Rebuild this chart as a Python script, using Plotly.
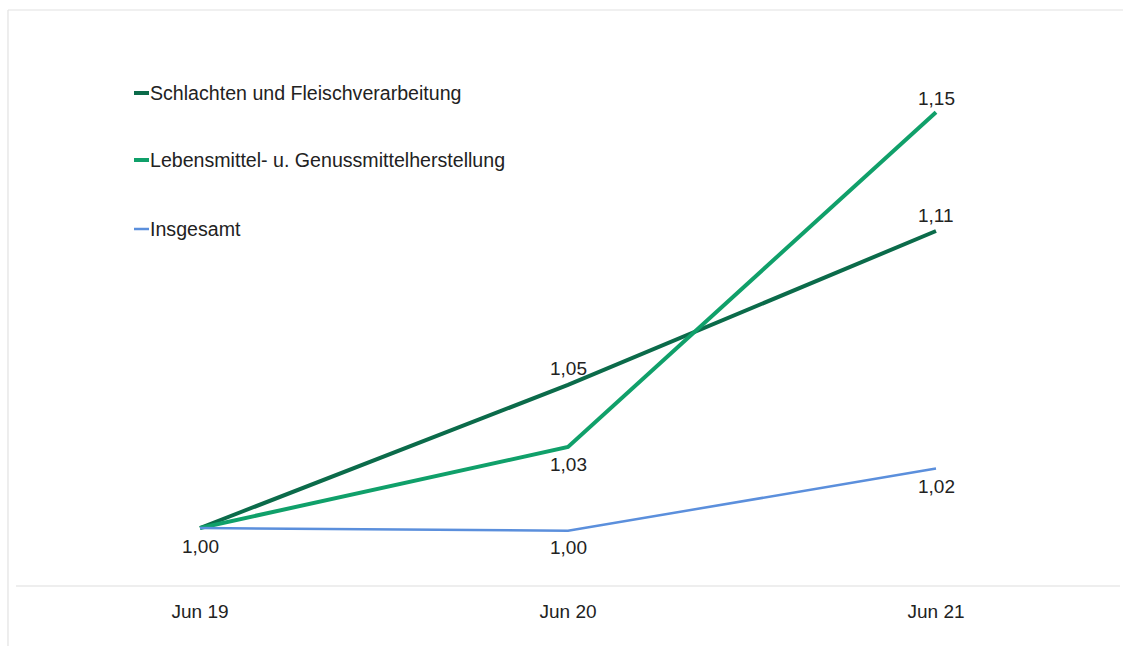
import plotly.graph_objects as go

# Index values (Juni 2019 = 1,00)
periods = ["Jun 19", "Jun 20", "Jun 21"]
series_names = [
    "Schlachten und Fleischverarbeitung",
    "Lebensmittel- u. Genussmittelherstellung",
    "Insgesamt",
]
schlachten = [1.00, 1.053, 1.11]
lebensmittel = [1.00, 1.03, 1.154]
insgesamt = [1.00, 0.999, 1.022]

colors = ["#0b6b4a", "#10a06a", "#5b8fdc"]
widths = [4, 4, 2.5]

# value labels: vertical offset in px (positive = above the point), None = no label
label_shift = [
    [None, 16, 16],
    [None, -17, 14],
    [-18, -17, -18],
]

W, H = 1123, 646
ML, MR, MT, MB = 16, 3, 10, 61
PW, PH = W - ML - MR, H - MT - MB

FONT = "Liberation Sans, Arial, sans-serif"
FS = 19
TXT = "#222222"


def px_x(px):
    return (px - ML) / PW


def px_y(py):
    return (H - MB - py) / PH


def fmt(v):
    return f"{v:.2f}".replace(".", ",")


fig = go.Figure()
annotations = []
for name, vals, col, w, shifts in zip(
    series_names, [schlachten, lebensmittel, insgesamt], colors, widths, label_shift
):
    fig.add_trace(
        go.Scatter(
            x=periods,
            y=vals,
            name=name,
            mode="lines",
            line=dict(color=col, width=w),
            showlegend=False,
            cliponaxis=False,
        )
    )
    for p, v, s in zip(periods, vals, shifts):
        if s is None:
            continue
        annotations.append(
            dict(x=p, y=v, xref="x", yref="y", text=fmt(v), showarrow=False,
                 xanchor="center", yanchor="middle", yshift=s,
                 font=dict(family=FONT, size=FS, color=TXT))
        )

# legend drawn as short line keys with labels
legend_y = [93, 160, 229]
shapes = []
for name, col, w, ly in zip(series_names, colors, widths, legend_y):
    shapes.append(
        dict(type="line", xref="paper", yref="paper",
             x0=px_x(134), x1=px_x(149), y0=px_y(ly), y1=px_y(ly),
             line=dict(color=col, width=w))
    )
    annotations.append(
        dict(xref="paper", yref="paper", x=px_x(148), y=px_y(ly),
             xanchor="left", yanchor="middle", showarrow=False,
             text=name, font=dict(family=FONT, size=19.6, color=TXT))
    )

# light frame along top and left edges
shapes.append(dict(type="line", xref="paper", yref="paper",
                   x0=px_x(8), x1=px_x(1123), y0=px_y(10), y1=px_y(10),
                   line=dict(color="#e2e2e2", width=1.2)))
shapes.append(dict(type="line", xref="paper", yref="paper",
                   x0=px_x(8), x1=px_x(8), y0=px_y(10), y1=px_y(646),
                   line=dict(color="#e2e2e2", width=1.2)))

fig.update_layout(
    width=W,
    height=H,
    margin=dict(l=ML, r=MR, t=MT, b=MB),
    paper_bgcolor="white",
    plot_bgcolor="white",
    font=dict(family=FONT, size=FS, color=TXT),
    shapes=shapes,
    annotations=annotations,
    xaxis=dict(
        type="category",
        range=[-0.5, 2.5],
        showgrid=False,
        zeroline=False,
        showline=True,
        linecolor="#eeeeee",
        linewidth=2,
        ticks="",
        tickfont=dict(family=FONT, size=FS, color=TXT),
        ticklabelstandoff=8,
    ),
    yaxis=dict(
        range=[0.97889, 1.19185],
        showgrid=False,
        zeroline=False,
        showline=False,
        showticklabels=False,
        ticks="",
    ),
)

fig.write_html("out.html")
